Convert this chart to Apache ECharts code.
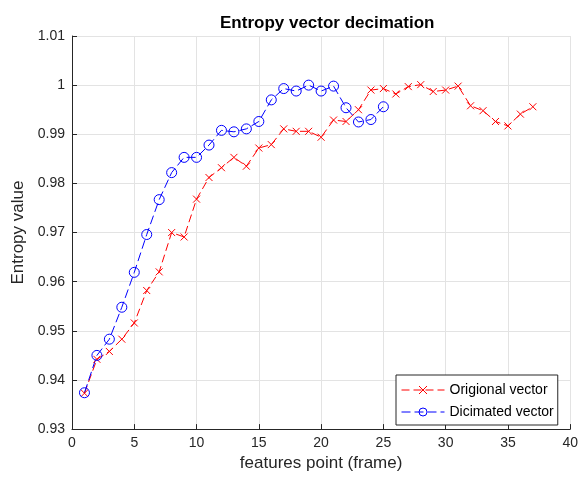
<!DOCTYPE html>
<html>
<head>
<meta charset="utf-8">
<script src="https://cdn.jsdelivr.net/npm/echarts@6/dist/echarts.min.js"></script>
<style>html,body{margin:0;padding:0;background:#fff;}#c{width:581px;height:477px;}</style>
</head>
<body>
<div id="c"></div>
<script>
var titleText = 'Entropy vector decimation';
var xName = 'features point (frame)';
var yName = 'Entropy value';
var origName = 'Origional vector';
var decName = 'Dicimated vector';

var origX = [1,2,3,4,5,6,7,8,9,10,11,12,13,14,15,16,17,18,19,20,21,22,23,24,25,26,27,28,29,30,31,32,33,34,35,36,37];
var origY = [0.9373,0.9442,0.9458,0.9483,0.9516,0.9582,0.9620,0.9700,0.9691,0.9768,0.9812,0.9832,0.9853,0.9835,0.9872,0.9879,0.9911,0.9906,0.9906,0.9894,0.9929,0.9926,0.9950,0.9990,0.9993,0.9982,0.9997,1.0001,0.9987,0.9990,0.9998,0.9958,0.9948,0.9926,0.9917,0.9941,0.9956];

var decX = [1,2,3,4,5,6,7,8,9,10,11,12,13,14,15,16,17,18,19,20,21,22,23,24,25];
var decY = [0.9374,0.9450,0.9483,0.9548,0.9619,0.9696,0.9767,0.9822,0.9853,0.9853,0.9878,0.9908,0.9905,0.9911,0.9926,0.9970,0.9993,0.9988,1.0000,0.9988,0.9998,0.9954,0.9925,0.9930,0.9956];

function pairs(xs, ys){ return xs.map(function(x,i){ return [x, ys[i]]; }); }

var FONT = '"Liberation Sans", Arial, Helvetica, sans-serif';
var AX = '#262626';
var chart = echarts.init(document.getElementById('c'), null, {renderer:'canvas'});
chart.setOption({
  animation: false,
  backgroundColor: '#fff',
  title: {
    text: titleText, left: 215, top: 10,
    textStyle: {fontFamily: FONT, fontSize: 17, fontWeight: 'bold', color: '#000'}
  },
  grid: {left: 72, top: 36, width: 500, height: 395, containLabel: false},
  xAxis: {
    type: 'value', min: 0, max: 40, interval: 5,
    name: xName, nameLocation: 'middle', nameGap: 19,
    nameTextStyle: {fontFamily: FONT, fontSize: 17, color: AX, verticalAlign: 'top'},
    axisLine: {show: true, lineStyle: {color: AX, width: 1}},
    axisTick: {show: true, inside: true, length: 5, lineStyle: {color: AX}},
    axisLabel: {fontFamily: FONT, fontSize: 14, color: AX, margin: 7},
    splitLine: {show: true, lineStyle: {color: '#e3e3e3', width: 1}}
  },
  yAxis: {
    type: 'value', min: 0.93, max: 1.01, interval: 0.01,
    name: yName, nameLocation: 'middle', nameGap: 41,
    nameTextStyle: {fontFamily: FONT, fontSize: 17, color: AX},
    axisLine: {show: true, lineStyle: {color: AX, width: 1}},
    axisTick: {show: true, inside: true, length: 5, lineStyle: {color: AX}},
    axisLabel: {fontFamily: FONT, fontSize: 14, color: AX, margin: 7,
      formatter: function(v){ return String(+v.toFixed(2)); }},
    splitLine: {show: true, lineStyle: {color: '#e3e3e3', width: 1}}
  },
  legend: {
    orient: 'vertical', left: 396, top: 375,
    padding: [8, 4, 6, 5], itemGap: 8, itemWidth: 43, itemHeight: 10,
    backgroundColor: '#fff', borderColor: '#262626', borderWidth: 1,
    lineStyle: {width: 1},
    itemStyle: {borderWidth: 1},
    textStyle: {fontFamily: FONT, fontSize: 14, color: '#000'},
    data: [origName, decName]
  },
  series: [
    {
      name: origName, type: 'line', data: pairs(origX, origY),
      symbol: 'path://M0,0L10,10M10,0L0,10', symbolSize: 7,
      itemStyle: {color: '#ff0000', borderColor: '#ff0000', borderWidth: 1},
      lineStyle: {color: '#ff0000', width: 1, type: [8, 4]}
    },
    {
      name: decName, type: 'line', data: pairs(decX, decY),
      symbol: 'circle', symbolSize: 10,
      itemStyle: {color: 'rgba(0,0,0,0)', borderColor: '#0000ff', borderWidth: 1},
      lineStyle: {color: '#0000ff', width: 1, type: [9, 4]}
    }
  ]
});
</script>
</body>
</html>
